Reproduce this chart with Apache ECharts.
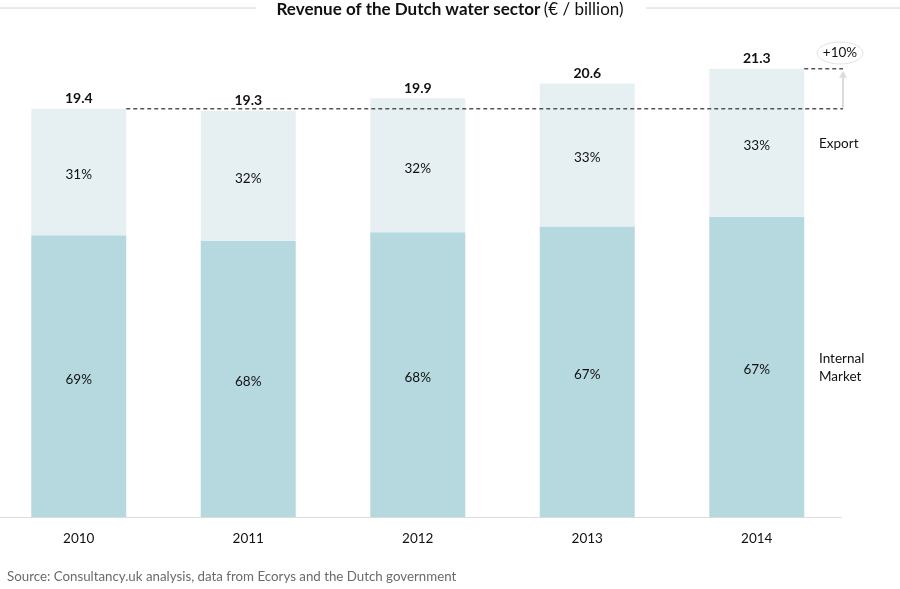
<!DOCTYPE html>
<html>
<head>
<meta charset="utf-8">
<script src="https://cdn.jsdelivr.net/npm/echarts@6/dist/echarts.min.js"></script>
<style>
  html, body { margin: 0; padding: 0; background: #fff; overflow: hidden; }
  #chart { position: relative; left: -6px; width: 906px; height: 589px; }
</style>
</head>
<body>
<div id="chart"></div>
<script>
// data
const years = ['2010', '2011', '2012', '2013', '2014'];
const totals = [19.4, 19.3, 19.9, 20.6, 21.3];
const internalPct = [69, 68, 68, 67, 67];
const exportPct = [31, 32, 32, 33, 33];
const growthLabel = '+10%';

const FONT = 'Lato, "Open Sans", sans-serif';
const DX = 6; // chart is shifted 6px left, page x = chart x - DX

//stack values from totals and shares
const internalVals = totals.map((t, i) => +(t * internalPct[i] / 100).toFixed(3));
const exportVals = totals.map((t, i) => +(t - internalVals[i]).toFixed(3));

const myChart = echarts.init(document.getElementById('chart'));

const pctLabel = { show: true, position: 'inside', offset: [0, 3], color: '#111', fontSize: 13.5, fontFamily: FONT };

const option = {
  animation: false,
  grid: { left: 0, right: 58.5, top: 54, bottom: 72 },
  xAxis: {
    type: 'category',
    data: years,
    axisLine: { lineStyle: { color: '#dcdcdc', width: 1 } },
    axisTick: { show: false },
    axisLabel: { color: '#111', fontSize: 13.5, fontFamily: FONT, margin: 15 }
  },
  yAxis: {
    type: 'value',
    min: 0,
    max: 22,
    show: false,
    splitLine: { show: false }
  },
  series: [
    {
      name: 'Internal Market',
      type: 'bar',
      stack: 'rev',
      barWidth: 95,
      data: internalVals,
      itemStyle: { color: '#b6d8df' },
      label: Object.assign({}, pctLabel, { formatter: p => internalPct[p.dataIndex] + '%' })
    },
    {
      name: 'Export',
      type: 'bar',
      stack: 'rev',
      data: exportVals,
      itemStyle: { color: '#e6f0f2' },
      label: Object.assign({}, pctLabel, { formatter: p => exportPct[p.dataIndex] + '%' })
    },
    {
      name: 'Total',
      type: 'bar',
      stack: 'rev',
      data: totals.map(() => 0),
      itemStyle: { color: 'transparent' },
      label: {
        show: true, position: 'top', distance: 3, color: '#111', fontSize: 14,
        fontWeight: 'bold', fontFamily: FONT,
        formatter: p => totals[p.dataIndex].toFixed(1)
      }
    }
  ]
};

myChart.setOption(option);

//growth annotation, placed from the chart's own scales
const halfBar = 95 / 2;
const first = myChart.convertToPixel({ seriesIndex: 0 }, [0, totals[0]]);
const last = myChart.convertToPixel({ seriesIndex: 0 }, [totals.length - 1, totals[totals.length - 1]]);
const endX = 843 + DX;
const dash = { stroke: '#555', lineWidth: 1.5, lineDash: [4, 3] };

myChart.setOption({
  graphic: [
    { id: 'tl', type: 'line', shape: { x1: 0, y1: 8, x2: 256 + DX, y2: 8 }, style: { stroke: '#d6d6d6', lineWidth: 1 } },
    { id: 'tr', type: 'line', shape: { x1: 646 + DX, y1: 8, x2: 906, y2: 8 }, style: { stroke: '#d6d6d6', lineWidth: 1 } },
    {
      id: 'title', type: 'text', x: 450 + DX, y: 10,
      style: {
        text: '{b|Revenue of the Dutch water sector} {n|(€ / billion)}',
        align: 'center', verticalAlign: 'middle',
        rich: {
          b: { fontSize: 17, fontWeight: 'bold', fill: '#111', fontFamily: FONT },
          n: { fontSize: 17, fill: '#111', fontFamily: FONT }
        }
      }
    },
    {
      id: 'src', type: 'text', x: 7 + DX, y: 570,
      style: { text: 'Source: Consultancy.uk analysis, data from Ecorys and the Dutch government', fill: '#6a6a6a', fontSize: 13.3, fontFamily: FONT }
    },
    { id: 'lexp', type: 'text', x: 819 + DX, y: 137, style: { text: 'Export', fill: '#111', fontSize: 13.5, fontFamily: FONT } },
    { id: 'lint', type: 'text', x: 819 + DX, y: 350, style: { text: 'Internal\nMarket', fill: '#111', fontSize: 13.5, lineHeight: 18, fontFamily: FONT } },
    { id: 'd1', type: 'line', shape: { x1: first[0] + halfBar, y1: first[1], x2: endX, y2: first[1] }, style: dash, z: 10 },
    { id: 'd2', type: 'line', shape: { x1: last[0] + halfBar, y1: last[1], x2: endX, y2: last[1] }, style: dash, z: 10 },
    { id: 'arr', type: 'line', shape: { x1: endX, y1: first[1] - 1, x2: endX, y2: last[1] + 6 }, style: { stroke: '#dcdcdc', lineWidth: 2 }, z: 9 },
    { id: 'head', type: 'polygon', shape: { points: [[endX - 4, last[1] + 9], [endX + 4, last[1] + 9], [endX, last[1] + 2]] }, style: { fill: '#dcdcdc' }, z: 9 },
    { id: 'ell', type: 'ellipse', shape: { cx: 840 + DX, cy: 53, rx: 23, ry: 11 }, style: { fill: '#fff', stroke: '#e2e2e2', lineWidth: 1 }, z: 10 },
    { id: 'grow', type: 'text', x: 840 + DX, y: 53, style: { text: growthLabel, fill: '#111', fontSize: 13.5, fontFamily: FONT, align: 'center', verticalAlign: 'middle' }, z: 11 }
  ]
});
</script>
</body>
</html>
